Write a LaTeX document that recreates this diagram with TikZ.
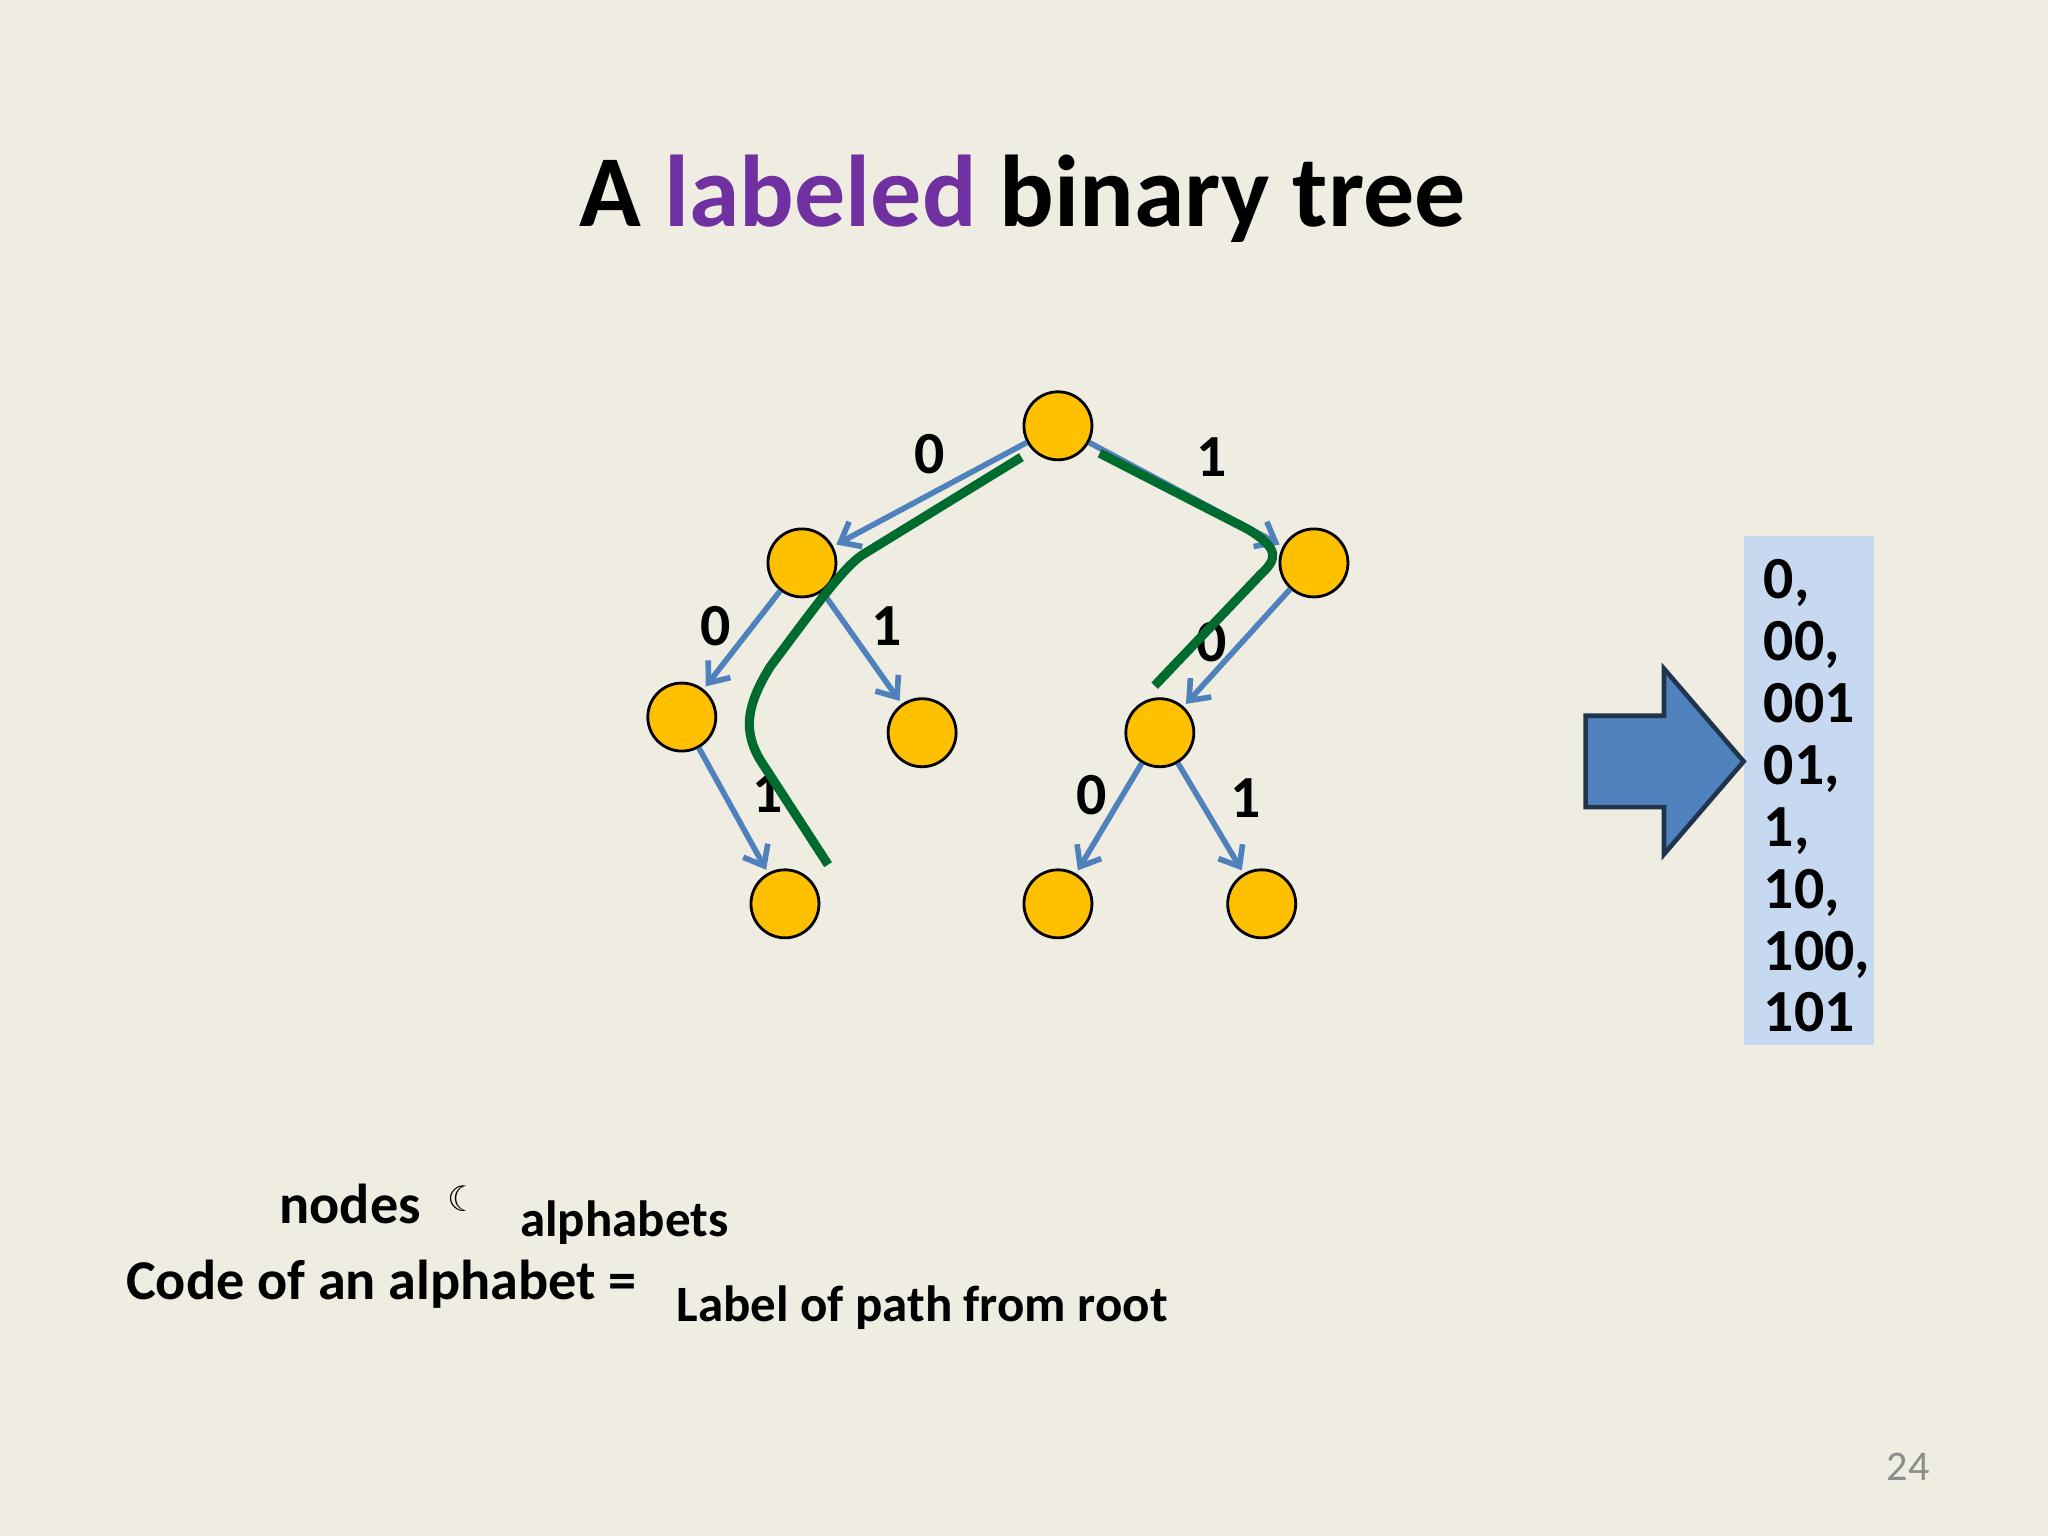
\documentclass[tikz,border=0pt]{standalone}
\usepackage{fontspec}
\setmainfont{Carlito}
\newfontfamily\djv{DejaVu Sans}
\usetikzlibrary{arrows.meta}
\definecolor{bg}{HTML}{EFECE2}
\definecolor{nodey}{HTML}{FFC000}
\definecolor{edgeb}{HTML}{4F81BD}
\definecolor{grn}{HTML}{006B2E}
\definecolor{boxb}{HTML}{C6D9F1}
\definecolor{purp}{HTML}{7030A0}
\begin{document}
\begin{tikzpicture}[x=0.013061cm,y=-0.013061cm,
  tn/.style={circle,draw=black,thick,fill=nodey,minimum size=0.68cm,inner sep=0pt},
  ed/.style={draw=edgeb,line width=1.6pt,-{Straight Barb[length=5pt,width=8pt]},shorten >=1pt},
  el/.style={font=\bfseries\fontsize{17}{17}\selectfont},
  gp/.style={draw=grn,line width=2.6pt}]
\fill[bg] (0,0) rectangle (1568,1176);
\useasboundingbox (0,0) rectangle (1568,1176);
\node[font=\bfseries\fontsize{29}{29}\selectfont] (title) at (783,152) {A \textcolor{purp}{labeled} binary tree};
\node[tn] (r) at (810,326) {};
\node[tn] (a) at (614,431) {};
\node[tn] (b) at (1006,431) {};
\node[tn] (aa) at (522,549) {};
\node[tn] (ab) at (706,561) {};
\node[tn] (ba) at (888,561) {};
\node[tn] (aab) at (601,692) {};
\node[tn] (baa) at (810,692) {};
\node[tn] (bab) at (966,692) {};
\draw[ed] (r) -- (a);
\draw[ed] (r) -- (b);
\draw[ed] (a) -- (aa);
\draw[ed] (a) -- (ab);
\draw[ed] (b) -- (ba);
\draw[ed] (aa) -- (aab);
\draw[ed] (ba) -- (baa);
\draw[ed] (ba) -- (bab);
\node[el] (l1) at (712,348) {0};
\node[el] (l2) at (928,350) {1};
\node[el] (l3) at (548,479) {0};
\node[el] (l4) at (679,479) {1};
\node[el] (l5) at (928,492) {0};
\node[el] (l6) at (588,607) {1};
\node[el] (l7) at (836,609) {0};
\node[el] (l8) at (954,611) {1};
\coordinate (g1) at (782,350);
\coordinate (g2) at (634,662);
\draw[gp] (g1) -- (660,425) .. controls (645,435) and (620,470) .. (590,510) .. controls (568,545) and (570,565) .. (586,588) -- (g2);
\coordinate (h1) at (842,347);
\coordinate (h2) at (884,525);
\draw[gp] (h1) -- (955,405) .. controls (980,420) and (978,428) .. (965,440) -- (h2);
\fill[boxb] (1335,410) rectangle (1435,800);
\node[align=left,anchor=north west,inner sep=0pt,font=\bfseries\fontsize{17}{17.6}\selectfont] (list) at (1350,428) {0,\\00,\\001\\01,\\1,\\10,\\100,\\101};
\draw[draw=black!60!edgeb,line width=1.3pt,fill=edgeb] (1214,548) -- (1274,548) -- (1274,512) -- (1335,583) -- (1274,654) -- (1274,618) -- (1214,618) -- cycle;
\node[font=\bfseries\fontsize{16}{16}\selectfont] (n1) at (268,922) {nodes};
\node[font=\djv\fontsize{10}{10}\selectfont] (cr) at (355,918) {☾};
\node[font=\bfseries\fontsize{14.5}{14.5}\selectfont] (n2) at (478,936) {alphabets};
\node[font=\bfseries\fontsize{16}{16}\selectfont] (n3) at (292,983) {Code of an alphabet =};
\node[font=\bfseries\fontsize{14.5}{14.5}\selectfont] (n4) at (706,1001) {Label of path from root};
\node[font=\fontsize{12}{12}\selectfont,text=black!45] (pg) at (1461,1123) {24};
\end{tikzpicture}
\end{document}
